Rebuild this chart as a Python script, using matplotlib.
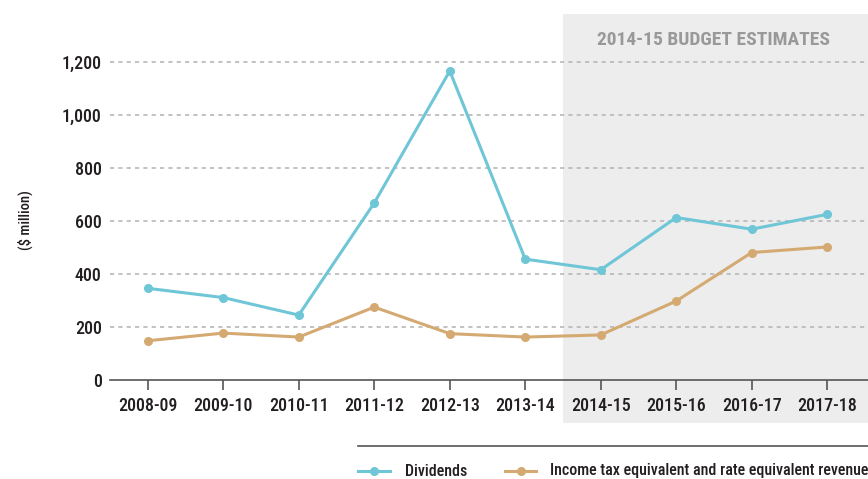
import matplotlib.pyplot as plt
from matplotlib import font_manager
from matplotlib.patches import Rectangle
from matplotlib.lines import Line2D
import matplotlib.transforms as mtransforms
from matplotlib.ticker import FuncFormatter

years = ['2008-09', '2009-10', '2010-11', '2011-12', '2012-13',
         '2013-14', '2014-15', '2015-16', '2016-17', '2017-18']
dividends = [346, 311, 245, 668, 1166, 456, 416, 613, 569, 625]
income_tax = [148, 177, 162, 275, 175, 162, 170, 298, 481, 502]
series_names = ['Dividends', 'Income tax equivalent and rate equivalent revenue']

blue = '#6ec6d6'
tan = '#d4aa72'
txt = '#231f20'

# pick a condensed face if there is one
have = {f.name for f in font_manager.fontManager.ttflist}
font = 'Roboto'
for cand in ['Roboto Condensed', 'PT Sans Narrow', 'Archivo Narrow',
             'Liberation Sans Narrow', 'Open Sans Condensed']:
    if cand in have:
        font = cand
        break
plt.rcParams['font.family'] = [font, 'DejaVu Sans']
plt.rcParams['font.weight'] = 'medium'

fig = plt.figure(figsize=(8.68, 4.79), dpi=100)
ax = fig.add_axes([110/868, 1-380/479, 1-110/868, 366/479])

x = list(range(len(years)))
ax.plot(x, dividends, color=blue, lw=2.2, marker='o', ms=5.5, zorder=3)
ax.plot(x, income_tax, color=tan, lw=2.2, marker='o', ms=5.5, zorder=3)

ax.set_xlim(-0.5, 9.54)
ax.set_ylim(0, 1381)
ax.set_yticks([0, 200, 400, 600, 800, 1000, 1200])
ax.yaxis.set_major_formatter(FuncFormatter(lambda v, p: f'{int(v):,}'))
ax.set_xticks(x)
ax.set_xticklabels(years)

for v in [200, 400, 600, 800, 1000, 1200]:
    ax.axhline(v, color='#b8b8b8', lw=1.2, ls=(0, (2.5, 2.5)), zorder=1)

for s in ['top', 'right', 'left']:
    ax.spines[s].set_visible(False)
ax.spines['bottom'].set_color('#555555')
ax.spines['bottom'].set_linewidth(1.2)
ax.tick_params(axis='x', length=7, color='#555555', width=1.2, labelsize=13,
               labelcolor=txt, pad=5)
ax.tick_params(axis='y', length=0, labelsize=13, labelcolor=txt, pad=6)
ax.patch.set_alpha(0)

# shaded budget estimate area
trans = mtransforms.blended_transform_factory(ax.transData, ax.transAxes)
ax.add_patch(Rectangle((5.5, -0.1175), 4.1, 1.1175, transform=trans,
                       facecolor='#ededed', edgecolor='none', clip_on=False,
                       zorder=0))
ax.text(7.5, 0.93, '2014-15 BUDGET ESTIMATES', transform=trans,
        ha='center', va='center', fontsize=14, fontweight='bold',
        color='#999999')

fig.text(25/868, 1-220/479, '($ million)', rotation=90, ha='center',
         va='center', fontsize=10.5, color=txt)

# legend, laid out by hand
ly = 1 - 471/479
fig.add_artist(Line2D([358/868, 1], [1-446/479, 1-446/479],
                      transform=fig.transFigure, color='#555555', lw=1.2))
for (x0, x1, tx), col, name in zip([(358, 390, 405), (505, 536, 550)],
                                   [blue, tan], series_names):
    fig.add_artist(Line2D([x0/868, x1/868], [ly, ly], transform=fig.transFigure,
                          color=col, lw=2.2))
    fig.add_artist(Line2D([(x0+x1)/2/868], [ly], transform=fig.transFigure,
                          color=col, marker='o', ms=5.5))
    fig.text(tx/868, ly, name, ha='left', va='center', fontsize=11.5,
             color=txt)

fig.savefig('out.png', dpi=100)
